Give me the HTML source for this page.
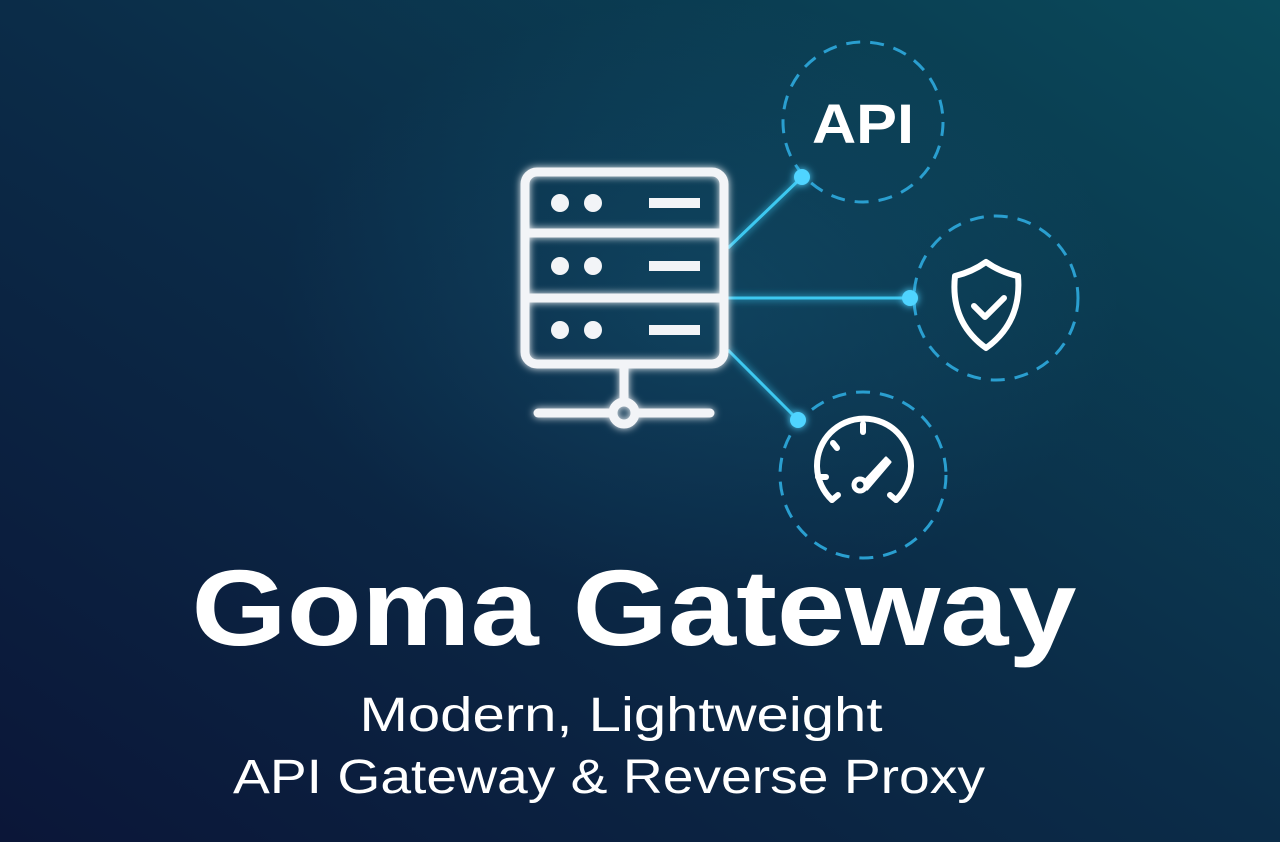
<!DOCTYPE html>
<html><head><meta charset="utf-8"><style>
html,body{margin:0;padding:0;width:1280px;height:842px;overflow:hidden;background:#0b1d3c}
svg{display:block}
</style></head><body>
<svg width="1280" height="842" viewBox="0 0 1280 842" xmlns="http://www.w3.org/2000/svg">
<defs>
<linearGradient id="bg" x1="0" y1="1" x2="1" y2="0">
<stop offset="0" stop-color="#0b1638"/>
<stop offset="0.5" stop-color="#0b2c48"/>
<stop offset="1" stop-color="#0a4a5a"/>
</linearGradient>
<radialGradient id="glow" cx="0.5" cy="0.5" r="0.5">
<stop offset="0" stop-color="#1a6a8a" stop-opacity="0.3"/>
<stop offset="1" stop-color="#1a6a8a" stop-opacity="0"/>
</radialGradient>
<filter id="gl" x="-20%" y="-20%" width="140%" height="140%"><feGaussianBlur stdDeviation="4" result="b"/><feMerge><feMergeNode in="b"/><feMergeNode in="SourceGraphic"/></feMerge></filter>
</defs>
<rect width="1280" height="842" fill="url(#bg)"/>
<ellipse cx="700" cy="300" rx="420" ry="300" fill="url(#glow)"/>
<g fill="none" stroke="#2a9fd0" stroke-width="3" stroke-dasharray="14 10">
<circle cx="863" cy="122" r="80"/>
<circle cx="996" cy="298" r="82"/>
<circle cx="863" cy="475" r="83"/>
</g>
<g stroke="#3cc8f0" stroke-width="3" filter="url(#gl)">
<line x1="728" y1="248" x2="802" y2="177"/>
<line x1="728" y1="298" x2="910" y2="298"/>
<line x1="728" y1="350" x2="798" y2="420"/>
</g>
<g fill="#4fd4ff" filter="url(#gl)">
<circle cx="802" cy="177" r="8"/>
<circle cx="910" cy="298" r="8"/>
<circle cx="798" cy="420" r="8"/>
</g>
<g filter="url(#gl)" stroke="#f2f4f7" stroke-width="9" fill="none" stroke-linecap="round">
<rect x="525" y="172" width="199" height="192" rx="12"/>
<line x1="525" y1="233" x2="724" y2="233"/>
<line x1="525" y1="298" x2="724" y2="298"/>
<line x1="624" y1="364" x2="624" y2="402"/>
<line x1="538" y1="413" x2="612" y2="413"/>
<line x1="636" y1="413" x2="710" y2="413"/>
<circle cx="624" cy="413" r="11"/>
</g>
<g fill="#f2f4f7">
<circle cx="560" cy="203" r="9"/><circle cx="593" cy="203" r="9"/><rect x="649" y="198" width="51" height="10"/>
<circle cx="560" cy="266" r="9"/><circle cx="593" cy="266" r="9"/><rect x="649" y="261" width="51" height="10"/>
<circle cx="560" cy="330" r="9"/><circle cx="593" cy="330" r="9"/><rect x="649" y="325" width="51" height="10"/>
</g>
<text x="863" y="143" text-anchor="middle" font-family="Liberation Sans, sans-serif" font-weight="bold" font-size="56" fill="#fff" textLength="102" lengthAdjust="spacingAndGlyphs">API</text>
<g fill="none" stroke="#fff" stroke-width="6" stroke-linejoin="round" stroke-linecap="round">
<path d="M955 276 Q972 272 986 262 Q1000 272 1018 276 Q1022 322 986 348 Q950 322 955 276 Z"/>
<path d="M974 306 L985 317 L1004 298"/>
</g>
<g fill="none" stroke="#fff" stroke-width="6" stroke-linecap="round">
<path d="M832 500 A47 47 0 1 1 896 500"/>
<line x1="832" y1="500" x2="838" y2="495"/>
<line x1="896" y1="500" x2="890" y2="495"/>
<line x1="863" y1="424" x2="863" y2="432"/>
<line x1="818" y1="477" x2="826" y2="477"/>
<line x1="833" y1="443" x2="837" y2="448"/>
</g>
<path d="M862 484 L886 458 L890 462 L867 489 Z" fill="#fff" stroke="#fff" stroke-width="3" stroke-linejoin="round"/>
<circle cx="860" cy="485" r="6" fill="#0b3048" stroke="#fff" stroke-width="5"/>
<text x="634" y="645" text-anchor="middle" font-family="Liberation Sans, sans-serif" font-weight="bold" font-size="108" fill="#fff" textLength="885" lengthAdjust="spacingAndGlyphs">Goma Gateway</text>
<text x="621" y="731" text-anchor="middle" font-family="Liberation Sans, sans-serif" font-size="48" fill="#fff" textLength="523" lengthAdjust="spacingAndGlyphs">Modern, Lightweight</text>
<text x="609" y="793" text-anchor="middle" font-family="Liberation Sans, sans-serif" font-size="48" fill="#fff" textLength="752" lengthAdjust="spacingAndGlyphs">API Gateway &amp; Reverse Proxy</text>
</svg>
</body></html>
